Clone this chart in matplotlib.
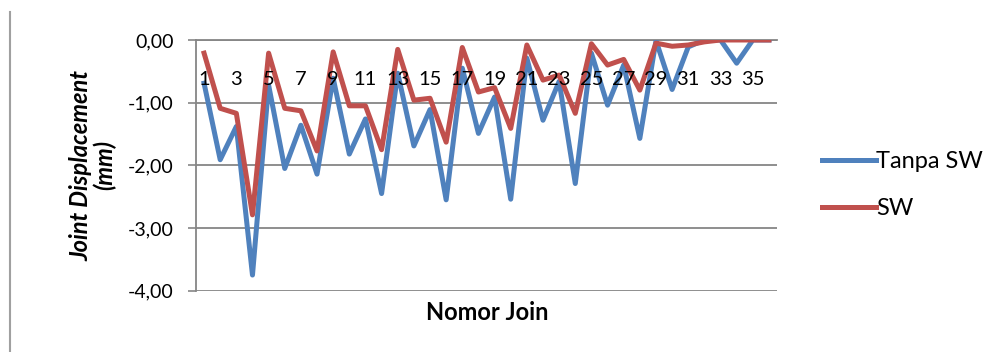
import matplotlib.pyplot as plt
import numpy as np

plt.rcParams['font.family'] = ['Lato', 'DejaVu Sans']

joints = list(range(1, 37))
tanpa_sw = [-0.69, -1.91, -1.38, -3.75, -0.72, -2.05, -1.36, -2.14, -0.61, -1.82,
            -1.26, -2.45, -0.53, -1.69, -1.11, -2.55, -0.45, -1.49, -0.91, -2.54,
            -0.29, -1.28, -0.66, -2.29, -0.21, -1.04, -0.40, -1.57, -0.01, -0.79,
            -0.11, 0.00, 0.00, -0.37, 0.00, 0.00]
sw = [-0.21, -1.09, -1.17, -2.79, -0.21, -1.09, -1.13, -1.77, -0.19, -1.05,
      -1.05, -1.75, -0.15, -0.96, -0.93, -1.63, -0.12, -0.83, -0.76, -1.41,
      -0.08, -0.64, -0.56, -1.17, -0.06, -0.40, -0.31, -0.80, -0.05, -0.10,
      -0.08, -0.03, 0.00, 0.00, 0.00, 0.00]
yticks = [0, -1, -2, -3, -4]
ytick_labels = ['0,00', '-1,00', '-2,00', '-3,00', '-4,00']

grey = '#868686'

fig = plt.figure(figsize=(10.03, 3.52), dpi=100)
ax = fig.add_axes([0.1954, 0.1741, 0.5793, 0.7123])

ax.plot(joints, tanpa_sw, color='#4F81BD', lw=3.6, solid_joinstyle='round',
        label='Tanpa SW', zorder=3)
ax.plot(joints, sw, color='#C0504D', lw=3.6, solid_joinstyle='round',
        label='SW', zorder=4)

ax.set_xlim(0.5, 36.5)
ax.set_ylim(-4, 0)

# y axis with gridlines behind the lines
ax.set_yticks(yticks)
ax.set_yticklabels(ytick_labels, fontsize=14)
ax.tick_params(axis='y', direction='out', length=6, width=1.2, color=grey, pad=10)
ax.grid(axis='y', color=grey, lw=1.3)
ax.set_axisbelow(True)

# category axis sits at y = 0, its labels drawn over the lines
ax.spines['bottom'].set_position(('data', 0))
ax.spines['bottom'].set_color(grey)
ax.spines['bottom'].set_linewidth(1.3)
ax.spines['left'].set_color(grey)
ax.spines['left'].set_linewidth(1.3)
ax.spines['top'].set_visible(False)
ax.spines['right'].set_visible(False)
ax.set_xticks(joints)
ax.set_xticklabels([str(j) if j % 2 else '' for j in joints], fontsize=14.5)
ax.tick_params(axis='x', length=0, pad=22)
ax.xaxis.set_zorder(5)

ax.set_ylabel('Joint Displacement\n(mm)', fontsize=17, fontweight='bold',
              fontstyle='italic', labelpad=8, linespacing=1.05)
fig.text(0.4855, 0.113, 'Nomor Join', fontsize=17, fontweight='bold',
         ha='center', va='center')

ax.legend(loc='center left', bbox_to_anchor=(1.04, 0.42), frameon=False,
          fontsize=17, handlelength=2.3, handletextpad=0.02, labelspacing=1.1)

# thin border line at the left edge
fig.add_artist(plt.Line2D([0.0095, 0.0095], [0.0, 0.965], color='#A0A0A0', lw=1.5))

fig.savefig('out.png', dpi=100)
